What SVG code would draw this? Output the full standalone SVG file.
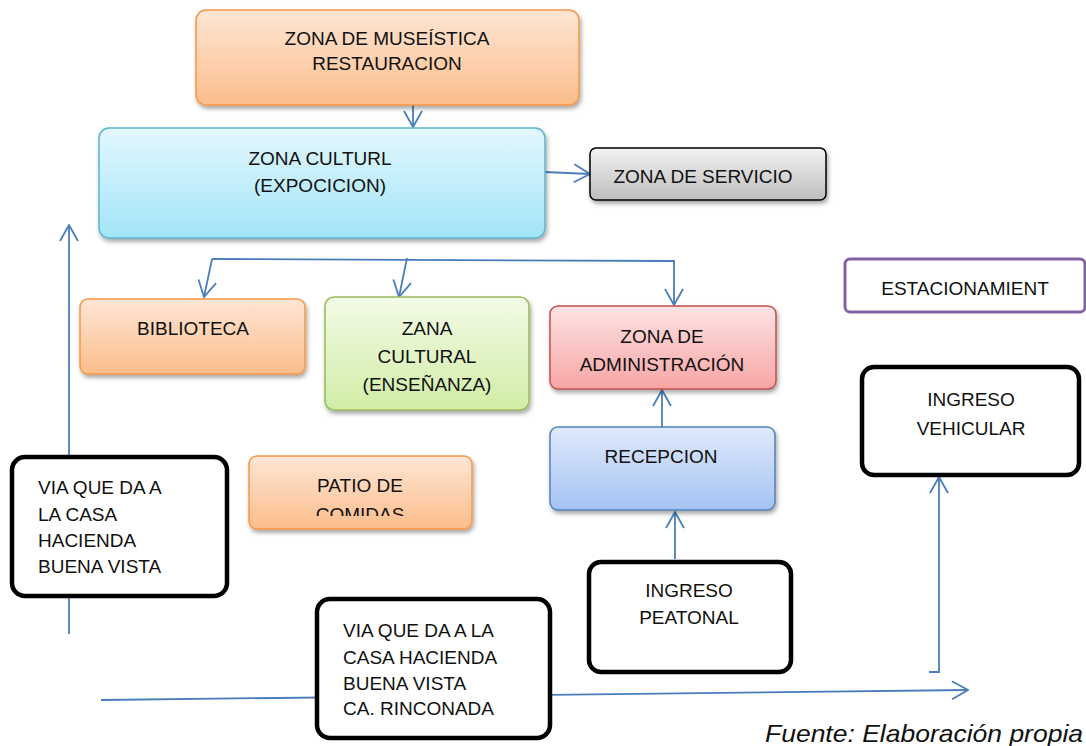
<svg xmlns="http://www.w3.org/2000/svg" width="1086" height="746" viewBox="0 0 1086 746">
<style>
text{font-family:"Liberation Sans",Arial,sans-serif;font-size:19px;fill:#111}
.c{text-anchor:middle}
.con{fill:none;stroke:#4a7ebb;stroke-width:1.8}
.blk{fill:#fff;stroke:#000;stroke-width:4.5}
</style>
<defs>
<linearGradient id="gO" x1="0" y1="0" x2="0" y2="1"><stop offset="0" stop-color="#fee6d5"/><stop offset="1" stop-color="#fbbd8b"/></linearGradient>
<linearGradient id="gC" x1="0" y1="0" x2="0" y2="1"><stop offset="0" stop-color="#e3f8fe"/><stop offset="1" stop-color="#a2e4f8"/></linearGradient>
<linearGradient id="gG" x1="0" y1="0" x2="0" y2="1"><stop offset="0" stop-color="#f3fbe7"/><stop offset="1" stop-color="#d1eda6"/></linearGradient>
<linearGradient id="gR" x1="0" y1="0" x2="0" y2="1"><stop offset="0" stop-color="#fde3e3"/><stop offset="1" stop-color="#f8a5a5"/></linearGradient>
<linearGradient id="gB" x1="0" y1="0" x2="0" y2="1"><stop offset="0" stop-color="#dfe9fb"/><stop offset="1" stop-color="#a5c3f3"/></linearGradient>
<linearGradient id="gS" x1="0" y1="0" x2="0" y2="1"><stop offset="0" stop-color="#f3f3f3"/><stop offset="1" stop-color="#bdbdbd"/></linearGradient>
<filter id="sh" x="-10%" y="-10%" width="125%" height="135%"><feDropShadow dx="1.5" dy="3" stdDeviation="2" flood-color="#000" flood-opacity="0.35"/></filter>
<marker id="ah" viewBox="0 0 18 20" refX="17" refY="10" markerWidth="18" markerHeight="20" markerUnits="userSpaceOnUse" orient="auto">
<path d="M1,1 L17,10 L1,19" fill="none" stroke="#4a7ebb" stroke-width="1.8"/>
</marker>
<clipPath id="patioClip"><rect x="249" y="456" width="224" height="60"/></clipPath>
</defs>

<g id="connectors">
<path class="con" d="M413,105 L413,127" marker-end="url(#ah)"/>
<path class="con" d="M545,172 L590,174" marker-end="url(#ah)"/>
<path class="con" d="M212,259 L674,261 L674,305" marker-end="url(#ah)"/>
<path class="con" d="M212,259 L204,297" marker-end="url(#ah)"/>
<path class="con" d="M407,258 L399,297" marker-end="url(#ah)"/>
<path class="con" d="M662,427 L662,390" marker-end="url(#ah)"/>
<path class="con" d="M675,559 L675,512" marker-end="url(#ah)"/>
<path class="con" d="M69,634 L69,225" marker-end="url(#ah)"/>
<path class="con" d="M929,672 L939,672 L939,477" marker-end="url(#ah)"/>
<path class="con" d="M101,700 L968,690" marker-end="url(#ah)"/>
</g>

<g id="museistica">
<rect x="196" y="10" width="383" height="95" rx="10" fill="url(#gO)" stroke="#f79646" stroke-width="1.5" filter="url(#sh)"/>
<text class="c" x="387" y="45">ZONA DE MUSEÍSTICA</text>
<text class="c" x="387" y="70">RESTAURACION</text>
</g>

<g id="cultural">
<rect x="99" y="128" width="446" height="110" rx="10" fill="url(#gC)" stroke="#5db4cf" stroke-width="1.5" filter="url(#sh)"/>
<text class="c" x="320" y="165">ZONA CULTURL</text>
<text class="c" x="320" y="192">(EXPOCICION)</text>
</g>

<g id="servicio">
<rect x="590" y="148" width="236" height="52" rx="6" fill="url(#gS)" stroke="#000" stroke-width="1.5" filter="url(#sh)"/>
<text class="c" x="703" y="183">ZONA DE SERVICIO</text>
</g>

<g id="biblioteca">
<rect x="80" y="299" width="225" height="75" rx="8" fill="url(#gO)" stroke="#f79646" stroke-width="1.5" filter="url(#sh)"/>
<text class="c" x="193" y="335">BIBLIOTECA</text>
</g>

<g id="zana">
<rect x="325" y="297" width="204" height="113" rx="9" fill="url(#gG)" stroke="#9bbb59" stroke-width="1.5" filter="url(#sh)"/>
<text class="c" x="427" y="335">ZANA</text>
<text class="c" x="427" y="363">CULTURAL</text>
<text class="c" x="427" y="391">(ENSEÑANZA)</text>
</g>

<g id="administracion">
<rect x="550" y="306" width="226" height="83" rx="8" fill="url(#gR)" stroke="#c0504d" stroke-width="1.5" filter="url(#sh)"/>
<text class="c" x="662" y="343">ZONA DE</text>
<text class="c" x="662" y="371">ADMINISTRACIÓN</text>
</g>

<g id="recepcion">
<rect x="550" y="427" width="225" height="83" rx="8" fill="url(#gB)" stroke="#4f81bd" stroke-width="1.5" filter="url(#sh)"/>
<text class="c" x="661" y="463">RECEPCION</text>
</g>

<g id="patio">
<rect x="249" y="456" width="223" height="73" rx="8" fill="url(#gO)" stroke="#f79646" stroke-width="1.5" filter="url(#sh)"/>
<text class="c" x="360" y="492">PATIO DE</text>
<text class="c" x="360" y="521" clip-path="url(#patioClip)">COMIDAS</text>
</g>

<g id="estacionamiento">
<rect x="845" y="259" width="240" height="53" rx="5" fill="#fff" stroke="#8064a2" stroke-width="3"/>
<text class="c" x="965" y="295">ESTACIONAMIENT</text>
</g>

<g id="vehicular">
<rect class="blk" x="862" y="367" width="217" height="108" rx="12"/>
<text class="c" x="971" y="406">INGRESO</text>
<text class="c" x="971" y="435">VEHICULAR</text>
</g>

<g id="peatonal">
<rect class="blk" x="589" y="562" width="202" height="110" rx="12"/>
<text class="c" x="689" y="597">INGRESO</text>
<text class="c" x="689" y="624">PEATONAL</text>
</g>

<g id="via1">
<rect class="blk" x="12" y="457" width="215" height="139" rx="13"/>
<text x="38" y="494">VIA QUE DA A</text>
<text x="38" y="521">LA CASA</text>
<text x="38" y="547">HACIENDA</text>
<text x="38" y="573">BUENA VISTA</text>
</g>

<g id="via2">
<rect class="blk" x="317" y="599" width="233" height="139" rx="13"/>
<text x="343" y="637">VIA QUE DA A LA</text>
<text x="343" y="664">CASA HACIENDA</text>
<text x="343" y="690">BUENA VISTA</text>
<text x="343" y="715">CA. RINCONADA</text>
</g>

<text x="765" y="742" style="font-style:italic;font-size:24px" textLength="318" lengthAdjust="spacingAndGlyphs">Fuente: Elaboración propia</text>
</svg>
